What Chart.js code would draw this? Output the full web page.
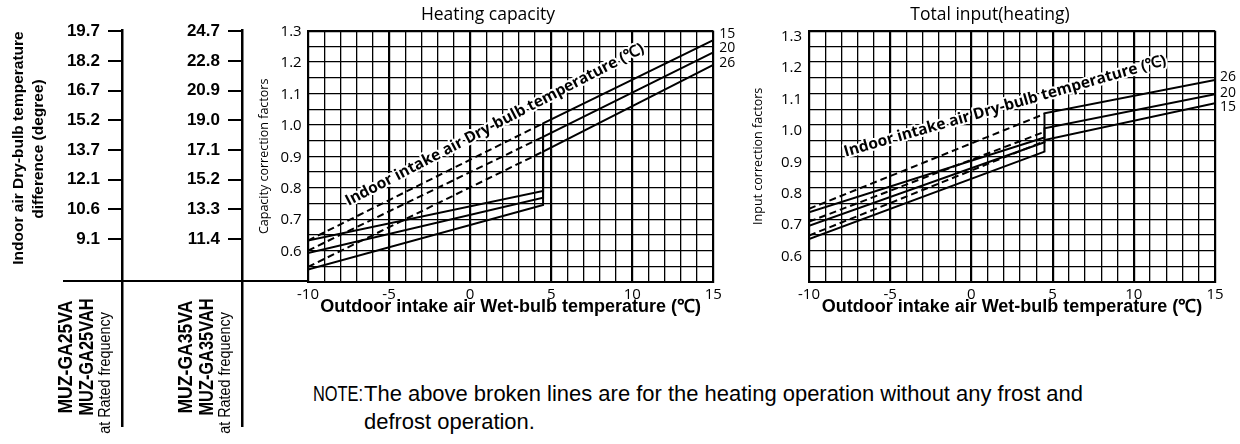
<!DOCTYPE html>
<html><head><meta charset="utf-8">
<script src="https://cdn.jsdelivr.net/npm/chart.js@4.4.1/dist/chart.umd.min.js"></script>
<style>
html,body{margin:0;padding:0;background:#fff;}
#wrap{position:relative;width:1240px;height:444px;overflow:hidden;background:#fff;}
canvas{position:absolute;top:0;}
.rt{position:absolute;white-space:nowrap;color:#000;font-family:"Liberation Sans",Arial,sans-serif;line-height:1.1;}
.b{font-weight:bold;}
.hline{position:absolute;left:63px;top:280px;width:245px;height:2px;background:#000;}
.note{position:absolute;white-space:nowrap;font-family:"Liberation Sans",Arial,sans-serif;font-size:22px;line-height:28px;color:#000;transform-origin:0 0;}
</style></head>
<body><div id="wrap">
<canvas id="cTable" width="250" height="444" style="left:0"></canvas>
<canvas id="cCap" width="504" height="330" style="left:236px"></canvas>
<canvas id="cInp" width="500" height="330" style="left:740px"></canvas>
<div class="hline"></div>
<div class="rt b" data-sx="1" style="left:18px;top:148px;font-size:15.5px">Indoor air Dry-bulb temperature</div>
<div class="rt b" data-sx="1" style="left:38px;top:149px;font-size:15.5px">difference (degree)</div>
<div class="rt b" data-sx="0.88" style="left:64.5px;top:357px;font-size:20px">MUZ-GA25VA</div>
<div class="rt b" data-sx="0.82" style="left:85.5px;top:357px;font-size:20px">MUZ-GA25VAH</div>
<div class="rt" data-sx="0.9" style="left:105px;top:373px;font-size:16px">at Rated frequency</div>
<div class="rt b" data-sx="0.88" style="left:184.5px;top:357px;font-size:20px">MUZ-GA35VA</div>
<div class="rt b" data-sx="0.82" style="left:205.5px;top:357px;font-size:20px">MUZ-GA35VAH</div>
<div class="rt" data-sx="0.9" style="left:225px;top:373px;font-size:16px">at Rated frequency</div>
<div class="note" id="noteHead" style="left:313px;top:380px">NOTE:</div>
<div class="note" id="note1" style="left:364px;top:380px">The above broken lines are for the heating operation without any frost and</div>
<div class="note" id="note2" style="left:364px;top:408px">defrost operation.</div>
</div>
<script>
// ---------- data ----------
const tempDiffLabels25 = ['19.7','18.2','16.7','15.2','13.7','12.1','10.6','9.1'];
const tempDiffLabels35 = ['24.7','22.8','20.9','19.0','17.1','15.2','13.3','11.4'];
const dryBulbNames = ['15','20','26'];
const xTickValues = [-10, -5, 0, 5, 10, 15];
const yTickLabels = ['0.6','0.7','0.8','0.9','1.0','1.1','1.2','1.3'];

// outdoor wet-bulb temperatures of the drawn vertices
const solidTemps = [-10, 4.5, 4.5, 15];
const dashedTemps = [-10, 4.5];

// Heating capacity correction factors (indoor dry-bulb 15 / 20 / 26)
const capSolid15 = [0.632, 0.790, 1.005, 1.270];
const capSolid20 = [0.592, 0.768, 0.962, 1.231];
const capSolid26 = [0.540, 0.745, 0.915, 1.191];
const capDashed15 = [0.632, 1.005];
const capDashed20 = [0.600, 0.962];
const capDashed26 = [0.548, 0.915];

// Total input correction factors (indoor dry-bulb 15 / 20 / 26)
const inpSolid15 = [0.637, 0.915, 0.952, 1.069];
const inpSolid20 = [0.679, 0.945, 0.989, 1.098];
const inpSolid26 = [0.722, 0.960, 1.037, 1.143];
const inpDashed15 = [0.648, 0.948];
const inpDashed20 = [0.692, 0.978];
const inpDashed26 = [0.733, 1.035];

const captionText = 'Indoor intake air Dry-bulb temperature (\u2103)';
const xTitleText = 'Outdoor intake air Wet-bulb temperature (\u2103)';

// ---------- helpers ----------
Chart.defaults.font.family = "'Open Sans','Noto Sans',sans-serif";
Chart.defaults.color = '#000';

const yTickValues = yTickLabels.map(parseFloat);
const BOLD = '"Liberation Sans", Arial, sans-serif';

function series(temps, vals, name, dashed) {
  return {
    data: temps.map((t, i) => ({x: t, y: vals[i]})),
    borderColor: '#000', borderWidth: 2, borderDash: dashed ? [7, 4] : [],
    pointRadius: 0, tension: 0, fill: false, showLine: true,
    endLabel: name
  };
}

const annotPlugin = {
  id: 'annot',
  afterDatasetsDraw(chart, args, o) {
    const ctx = chart.ctx, xs = chart.scales.x, ys = chart.scales.y;
    ctx.save();
    ctx.fillStyle = '#000';
    ctx.font = o.labelFont;
    ctx.textAlign = 'left'; ctx.textBaseline = 'middle';
    chart.data.datasets.forEach((ds, i) => {
      if (!ds.endLabel) return;
      const m = chart.getDatasetMeta(i);
      const p = m.data[m.data.length - 1];
      const k = dryBulbNames.indexOf(ds.endLabel);
      ctx.fillText(ds.endLabel, p.x + o.labelDx, p.y + o.labelDy[k]);
    });
    const px = xs.getPixelForValue(o.capX), py = ys.getPixelForValue(o.capY);
    ctx.translate(px, py);
    ctx.rotate(o.capAngle * Math.PI / 180);
    ctx.font = o.capFont;
    ctx.textBaseline = 'alphabetic';
    ctx.lineJoin = 'round';
    ctx.strokeStyle = '#fff'; ctx.lineWidth = 4;
    ctx.strokeText(captionText, 0, 0);
    ctx.fillText(captionText, 0, 0);
    ctx.restore();
  }
};

function mainChart(id, datasets, c) {
  return new Chart(document.getElementById(id), {
    type: 'scatter',
    data: {datasets},
    plugins: [annotPlugin],
    options: {
      responsive: false, animation: false, events: [],
      layout: {padding: 0},
      plugins: {
        legend: {display: false}, tooltip: {enabled: false},
        title: {display: true, text: c.title, color: '#000',
                font: {size: 17.5, weight: 'normal'}, padding: {top: 4.2, bottom: 5.5}},
        annot: c.annot
      },
      scales: {
        x: {
          type: 'linear', min: -10, max: 15,
          afterBuildTicks: s => { const t = []; for (let v = -10; v <= 15; v++) t.push({value: v}); s.ticks = t; },
          afterFit: s => { s.height = 48; },
          ticks: {autoSkip: false, maxRotation: 0, padding: 3.5, font: {size: 15}, color: '#000',
                  callback: v => xTickValues.includes(v) ? String(v) : ''},
          grid: {drawTicks: false, color: '#000',
                 lineWidth: g => (g.tick && (g.tick.value % 5 === 0)) ? 2.2 : 1.3},
          border: {display: true, width: 2, color: '#000'},
          title: {display: true, text: xTitleText, color: '#000',
                  font: {family: BOLD, size: 18, weight: 'bold'}, padding: {top: 0, bottom: 11.7}}
        },
        y: {
          type: 'linear', min: 0.5, max: 1.3,
          afterBuildTicks: s => { const t = []; for (let i = 0; i <= 16; i++) t.push({value: Math.round((0.5 + i * 0.05) * 100) / 100}); s.ticks = t; },
          afterFit: s => { s.width = c.yWidth; },
          ticks: {autoSkip: false, padding: c.yPad, labelOffset: c.yLabelOffset, font: {size: 15}, color: '#000',
                  callback: v => { const i = yTickValues.findIndex(t => Math.abs(t - v) < 1e-6); return i >= 0 ? yTickLabels[i] : ''; }},
          grid: {drawTicks: false, color: '#000',
                 lineWidth: g => (g.tick && Math.abs(g.tick.value - 1.3) < 1e-6) ? 2.2 : 1.3},
          border: {display: true, width: 2, color: '#000'},
          title: {display: true, text: c.yTitle, color: '#000', font: {size: 12.5},
                  padding: {top: c.yTitlePad, bottom: 0}}
        },
        // empty right-hand spacer keeps room for the series labels
        ySpace: {
          type: 'linear', axis: 'y', position: 'right', min: 0, max: 1,
          afterFit: s => { s.width = c.padRight; },
          ticks: {display: false}, grid: {display: false, drawTicks: false},
          border: {display: false}
        }
      }
    }
  });
}

// ---------- left table axes ----------
function tableAxis(labels, weight, width) {
  const step = 31, first = 1.5, h = 414;
  return {
    type: 'linear', axis: 'y', position: 'left', weight, reverse: true,
    min: -first / step, max: -first / step + h / step,
    afterBuildTicks: s => { s.ticks = labels.map((_, i) => ({value: i})); },
    afterFit: s => { s.width = width; },
    ticks: {autoSkip: false, padding: 8, color: '#000',
            font: {family: BOLD, size: 17, weight: 'bold'},
            callback: v => (labels[v] !== undefined ? labels[v] : '')},
    grid: {drawOnChartArea: false, drawTicks: true, tickLength: 14, lineWidth: 2, color: '#000'},
    border: {display: true, width: 2.5, color: '#000'}
  };
}

new Chart(document.getElementById('cTable'), {
  type: 'scatter',
  data: {datasets: []},
  options: {
    responsive: false, animation: false, events: [],
    layout: {padding: {top: 30, bottom: 0, left: 0, right: 0}},
    plugins: {legend: {display: false}, tooltip: {enabled: false}},
    scales: {
      x: {display: false, min: 0, max: 1},
      y: {display: false},
      yA: tableAxis(tempDiffLabels25, 2, 122),
      yB: tableAxis(tempDiffLabels35, 1, 120)
    }
  }
});

// ---------- heating capacity ----------
mainChart('cCap', [
  series(solidTemps, capSolid15, dryBulbNames[0], false),
  series(solidTemps, capSolid20, dryBulbNames[1], false),
  series(solidTemps, capSolid26, dryBulbNames[2], false),
  series(dashedTemps, capDashed15, null, true),
  series(dashedTemps, capDashed20, null, true),
  series(dashedTemps, capDashed26, null, true)
], {
  title: 'Heating capacity', yTitle: 'Capacity correction factors',
  padRight: 26.7, yWidth: 72, yPad: 6.3, yLabelOffset: 1, yTitlePad: 20.5,
  annot: {labelFont: "14px 'Open Sans'", labelDx: 6, labelDy: [-6.5, -4.6, -2.3],
          capFont: "bold 15.5px 'Open Sans'", capX: -7.5, capY: 0.742, capAngle: -27.5}
});

// ---------- total input ----------
mainChart('cInp', [
  series(solidTemps, inpSolid15, dryBulbNames[0], false),
  series(solidTemps, inpSolid20, dryBulbNames[1], false),
  series(solidTemps, inpSolid26, dryBulbNames[2], false),
  series(dashedTemps, inpDashed15, null, true),
  series(dashedTemps, inpDashed20, null, true),
  series(dashedTemps, inpDashed26, null, true)
], {
  title: 'Total input(heating)', yTitle: 'Input correction factors',
  padRight: 25, yWidth: 69, yPad: 7, yLabelOffset: 6, yTitlePad: 10.5,
  annot: {labelFont: "14px 'Open Sans'", labelDx: 5, labelDy: [4, -0.7, -2.7],
          capFont: "bold 15.5px 'Open Sans'", capX: -7.75, capY: 0.899, capAngle: -16}
});

// ---------- rotated table texts & note fitting ----------
document.querySelectorAll('.rt').forEach(el => {
  el.style.transform = 'translate(-50%,-50%) rotate(-90deg) scaleX(' + el.dataset.sx + ')';
});
(function () {
  const head = document.getElementById('noteHead');
  const n1 = document.getElementById('note1'), n2 = document.getElementById('note2');
  const k = 719 / n1.getBoundingClientRect().width;
  n1.style.transform = 'scaleX(' + k + ')';
  n2.style.transform = 'scaleX(' + k + ')';
  head.style.transform = 'scaleX(' + Math.min(1, 50 / head.getBoundingClientRect().width) + ')';
})();
</script>
</body></html>
